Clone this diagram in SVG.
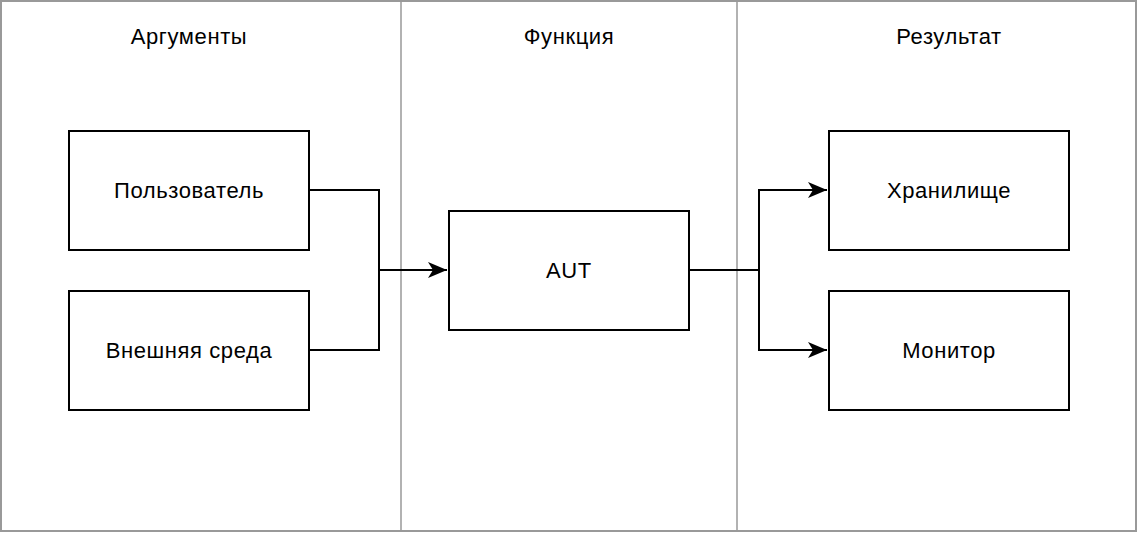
<svg xmlns="http://www.w3.org/2000/svg" width="1138" height="534" viewBox="0 0 1138 534">
<style>
.t{font-family:"Liberation Sans",Arial,sans-serif;font-size:22px;letter-spacing:0.6px;fill:#000000;text-anchor:middle;dominant-baseline:central}
.box{fill:#ffffff;stroke:#000000;stroke-width:2}
.c{fill:none;stroke:#000000;stroke-width:2}
</style>
<defs>
<marker id="arr" markerWidth="22" markerHeight="20" refX="20" refY="10" orient="auto" markerUnits="userSpaceOnUse">
<path d="M1,2 L20,10 L1,18 L6,10 Z" fill="#000000"/>
</marker>
</defs>
<g id="lanes">
<rect x="1" y="1" width="1135" height="530" fill="none" stroke="#999999" stroke-width="2"/>
<line x1="401" y1="1" x2="401" y2="531" stroke="#999999" stroke-width="1.5"/>
<line x1="737" y1="1" x2="737" y2="531" stroke="#999999" stroke-width="1.5"/>
<text class="t" x="189" y="36">Аргументы</text>
<text class="t" x="569" y="36">Функция</text>
<text class="t" x="949" y="36">Результат</text>
</g>
<g id="connectors">
<path class="c" d="M309,190 H379 V270 H447" marker-end="url(#arr)"/>
<path class="c" d="M309,350 H379 V270"/>
<path class="c" d="M689,270 H759 V190 H827" marker-end="url(#arr)"/>
<path class="c" d="M759,270 V350 H827" marker-end="url(#arr)"/>
</g>
<g id="user"><rect class="box" x="69" y="131" width="240" height="119"/><text class="t" x="189" y="190">Пользователь</text></g>
<g id="env"><rect class="box" x="69" y="291" width="240" height="119"/><text class="t" x="189" y="350">Внешняя среда</text></g>
<g id="aut"><rect class="box" x="449" y="211" width="240" height="119"/><text class="t" x="569" y="270">AUT</text></g>
<g id="storage"><rect class="box" x="829" y="131" width="240" height="119"/><text class="t" x="949" y="190">Хранилище</text></g>
<g id="monitor"><rect class="box" x="829" y="291" width="240" height="119"/><text class="t" x="949" y="350">Монитор</text></g>
</svg>
